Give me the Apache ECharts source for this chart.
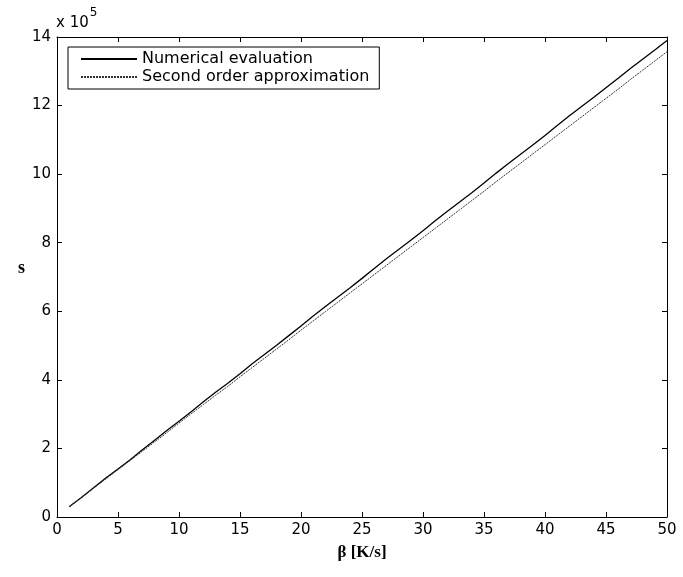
<!DOCTYPE html>
<html>
<head>
<meta charset="utf-8">
<script src="https://cdn.jsdelivr.net/npm/echarts@6/dist/echarts.min.js"></script>
<style>html,body{margin:0;padding:0;background:#fff}#c{width:683px;height:577px}</style>
</head>
<body>
<div id="c"></div>
<script>
var beta = [1,2,3,4,5,6,7,8,9,10,11,12,13,14,15,16,17,18,19,20,21,22,23,24,25,26,27,28,29,30,31,32,33,34,35,36,37,38,39,40,41,42,43,44,45,46,47,48,49,50];
var numerical = [0.30,0.57,0.85,1.14,1.40,1.67,1.96,2.24,2.52,2.79,3.07,3.36,3.64,3.90,4.18,4.47,4.74,5.01,5.29,5.57,5.86,6.14,6.41,6.68,6.96,7.25,7.53,7.80,8.07,8.35,8.64,8.92,9.19,9.46,9.74,10.03,10.31,10.58,10.85,11.13,11.42,11.70,11.97,12.24,12.52,12.80,13.08,13.35,13.62,13.90];
var secondOrder = [0.30,0.56,0.84,1.11,1.38,1.65,1.92,2.19,2.46,2.74,3.01,3.28,3.55,3.81,4.09,4.36,4.63,4.90,5.17,5.45,5.72,5.99,6.26,6.53,6.80,7.07,7.34,7.61,7.88,8.15,8.42,8.69,8.96,9.23,9.50,9.78,10.05,10.32,10.59,10.86,11.13,11.40,11.67,11.94,12.21,12.48,12.76,13.03,13.30,13.57];
var seriesNames = ['Numerical evaluation', 'Second order approximation'];

var chart = echarts.init(document.getElementById('c'), null, {renderer: 'canvas'});
function pairs(xs, ys){ return xs.map(function(x,i){ return [x, ys[i]]; }); }
var sans = 'DejaVu Sans, Liberation Sans, Arial, sans-serif';
var serif = 'Liberation Serif, Times New Roman, serif';
var axisLine = {show: true, onZero: false, lineStyle: {color: '#000', width: 1}};
var tick = {show: true, inside: true, length: 5, lineStyle: {color: '#000'}};
var lbl = {color: '#000', fontSize: 15, fontFamily: sans, margin: 6};
chart.setOption({
  animation: false,
  backgroundColor: '#fff',
  grid: {left: 57, right: 16, top: 37, bottom: 60, show: false},
  legend: {
    left: 68, top: 47, orient: 'vertical',
    borderColor: '#000', borderWidth: 1, borderRadius: 0,
    padding: [4, 10, 4, 12], itemGap: 2,
    itemWidth: 56, itemHeight: 14,
    itemStyle: {opacity: 0},
    textStyle: {color: '#000', fontSize: 16, fontFamily: sans},
    data: seriesNames
  },
  xAxis: [
    {type: 'value', position: 'bottom', min: 0, max: 50, interval: 5,
     axisLine: axisLine, axisTick: tick, axisLabel: lbl, splitLine: {show: false},
     name: 'β [K/s]', nameLocation: 'middle', nameGap: 27,
     nameTextStyle: {color: '#000', fontSize: 17, fontWeight: 'bold', fontFamily: serif}},
    {type: 'value', position: 'top', min: 0, max: 50, interval: 5,
     axisLine: axisLine, axisTick: tick, axisLabel: {show: false}, splitLine: {show: false}}
  ],
  yAxis: [
    {type: 'value', position: 'left', min: 0, max: 14, interval: 2,
     axisLine: axisLine, axisTick: tick, axisLabel: lbl, splitLine: {show: false},
     name: 's', nameLocation: 'middle', nameGap: 32, nameRotate: 0,
     nameTextStyle: {color: '#000', fontSize: 18, fontWeight: 'bold', fontFamily: serif, verticalAlign: 'bottom'}},
    {type: 'value', position: 'right', min: 0, max: 14, interval: 2,
     axisLine: axisLine, axisTick: tick, axisLabel: {show: false}, splitLine: {show: false}}
  ],
  graphic: [{
    type: 'text', left: 56, top: 7,
    style: {
      text: '{a|x 10}{b|5}',
      rich: {
        a: {fontSize: 15, fontFamily: sans, fill: '#000', verticalAlign: 'bottom', lineHeight: 24},
        b: {fontSize: 12, fontFamily: sans, fill: '#000', verticalAlign: 'top', lineHeight: 12, padding: [0,0,12,1]}
      }
    }
  }],
  series: [
    {name: seriesNames[0], type: 'line', data: pairs(beta, numerical), showSymbol: false, symbol: 'none',
     lineStyle: {color: '#000', width: 1.3, type: 'solid'}, itemStyle: {color: '#000'}},
    {name: seriesNames[1], type: 'line', data: pairs(beta, secondOrder), showSymbol: false, symbol: 'none',
     lineStyle: {color: '#333', width: 1, type: [2, 1]}, itemStyle: {color: '#333'}}
  ]
});
</script>
</body>
</html>
